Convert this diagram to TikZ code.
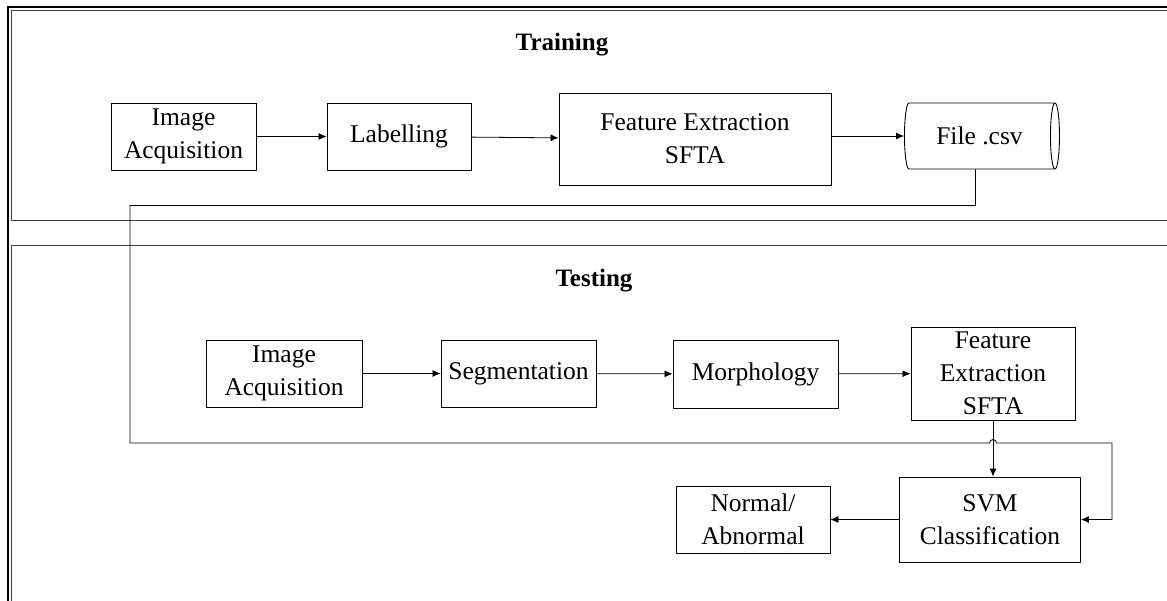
\documentclass[tikz,border=0pt]{standalone}
\usepackage{fontspec}
\setmainfont{Liberation Serif}
\usepackage{tikz}
\usetikzlibrary{positioning,calc,shapes.geometric,arrows.meta}
\tikzset{
	flow diagram/.style={
		x=1pt,y=-1pt,
		line width=0.9pt,
		font=\fontsize{25.5}{33}\selectfont,
		every edge/.style={draw,line width=0.8pt,-{Latex[length=8pt,width=7pt]}}
	},
	stage/.style 2 args={% width, height
		rectangle,
		draw,
		align=center,
		inner sep=0pt,
		minimum width=#1,
		minimum height=#2
	},
	datafile/.style={
		cylinder,
		draw,
		aspect=0.5,
		inner sep=0pt,
		minimum width=66,  % across the axis
		minimum height=155 % along the axis
	},
	panel title/.style={
		font=\fontsize{25}{30}\selectfont\bfseries
	},
	panel/.style={
		draw=black!75,
		line width=0.9pt
	}
}

\begin{document}
\begin{tikzpicture}[flow diagram]
		\useasboundingbox (0,0) rectangle (1167,600);
		\clip (0,0) rectangle (1167,600);
		% frame and panels
		\draw[line width=2pt] (8,620) |- (1190,7);
		\draw[panel] (1190,10) -| (11,220) -- (1190,220);
		\draw[panel] (1190,245) -| (11,620);
		\node[panel title] (traintitle) at (562,45) {Training};
		\node[panel title] (testtitle) at (594,281) {Testing};
		% training
		\node[stage={145pt}{67pt}] (acq1) at (183.5,136.5) {Image\\Acquisition};
		\node[stage={144pt}{67pt}] (label) at (399,136.5) {Labelling};
		\node[stage={272pt}{92pt}] (feat1) at (695,139) {Feature Extraction\\SFTA};
		\node[datafile] (csv) at (979.5,136) {File .csv};
		% testing
		\node[stage={156pt}{67pt}] (acq2) at (284,373.5) {Image\\Acquisition};
		\node[stage={155pt}{67pt}] (segm) at (518.5,373.5) {Segmentation};
		\node[stage={165pt}{68pt}] (morph) at (755.5,374) {Morphology};
		\node[stage={164pt}{93pt}] (feat2) at (993,373.5) {Feature\\Extraction\\SFTA};
		\node[stage={181pt}{85pt}] (svm) at (990,519.5) {SVM\\Classification};
		\node[stage={154pt}{67pt}] (result) at (753,519.5) {Normal/\\Abnormal};
		\draw (acq1) edge (label)
			(label) edge (feat1)
			(feat1.east |- csv.west) edge (csv.west)
			(acq2) edge (segm)
			(segm) edge (morph)
			(morph) edge (feat2)
			(feat2.south) edge (feat2.south |- svm.north)
			(svm) edge (result);
		% training data routed down to the classifier
		\coordinate (drop) at ($(csv.south)+(-4,36)$);
		\coordinate (back) at (130,443);
		\coordinate (hop) at (feat2.south |- back);
		\coordinate (side) at (1112,443);
		\draw[line width=0.8pt,-{Latex[length=8pt,width=7pt]}]
			($(csv.south)+(-4,0)$) -- (drop) -| (back)
			-- ($(hop)+(-3.5,0)$) arc[start angle=180,end angle=360,radius=3.5]
			-- (side) |- (svm.east);
	\end{tikzpicture}
\end{document}
